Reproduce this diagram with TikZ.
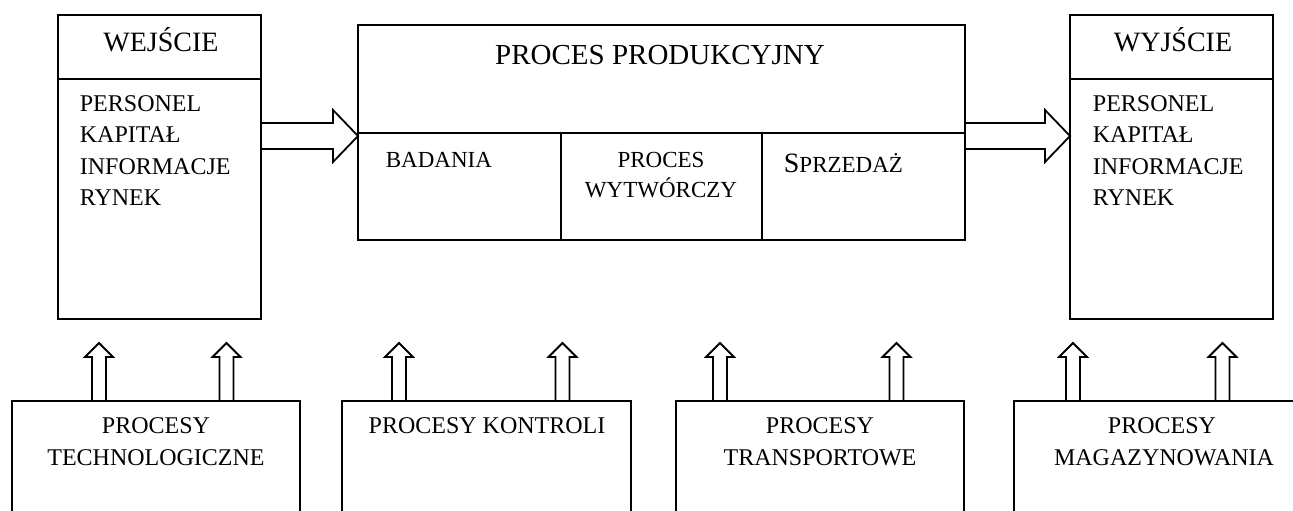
\documentclass[tikz,border=0pt]{standalone}
\usepackage{fontspec}
\setmainfont{Liberation Serif}
\usetikzlibrary{calc}

% hollow block arrow pointing up from a point on a box top
\newcommand\liftarrow[1]{%
  \draw[blockarrow] ($(#1)+(-7,0)$) -- ++(0,-44) -- ++(-7,0) -- ++(14,-14)
    -- ++(14,14) -- ++(-7,0) -- ++(0,44);}
% hollow block arrow pointing right from #1 to #2
\newcommand\pusharrow[2]{%
  \draw[blockarrow] ($(#1)+(0,-13)$) -- ($(#2)+(-25,-13)$) -- ($(#2)+(-25,-26)$)
    -- (#2) -- ($(#2)+(-25,26)$) -- ($(#2)+(-25,13)$) -- ($(#1)+(0,13)$);}

\begin{document}
\begin{tikzpicture}[x=1pt,y=-1pt,line width=1.8pt,
  panel/.style={draw,rectangle,inner sep=0pt,outer sep=0pt,anchor=north west},
  lbl/.style={inner sep=0pt,anchor=base,font=\fontsize{24}{24}\selectfont},
  listitem/.style={lbl,anchor=base west},
  cell/.style={lbl,font=\fontsize{23}{23}\selectfont},
  head/.style={lbl,font=\fontsize{28}{28}\selectfont},
  blockarrow/.style={draw,line join=miter}]
\useasboundingbox (0,0) rectangle (1293,511);
\clip (0,0) rectangle (1293,511);

% input column
\node[panel,minimum width=203pt,minimum height=304pt] (wej) at (58,15) {};
\draw ($(wej.north west)+(0,64)$) -- ($(wej.north east)+(0,64)$);
\node[head] (wejt) at (161,52) {WEJŚCIE};
\node[listitem] (wej1) at (79,111) {PERSONEL};
\node[listitem] (wej2) at (79,142.5) {KAPITAŁ};
\node[listitem] (wej3) at (79,174) {INFORMACJE};
\node[listitem] (wej4) at (79,205.5) {RYNEK};

% output column
\node[panel,minimum width=203pt,minimum height=304pt] (wyj) at (1070,15) {};
\draw ($(wyj.north west)+(0,64)$) -- ($(wyj.north east)+(0,64)$);
\node[head] (wyjt) at (1173,52) {WYJŚCIE};
\node[listitem] (wyj1) at (1092,111) {PERSONEL};
\node[listitem] (wyj2) at (1092,142.5) {KAPITAŁ};
\node[listitem] (wyj3) at (1092,174) {INFORMACJE};
\node[listitem] (wyj4) at (1092,205.5) {RYNEK};

% production process
\node[panel,minimum width=607pt,minimum height=215pt] (prod) at (358,25) {};
\draw ($(prod.north west)+(0,108)$) -- ($(prod.north east)+(0,108)$);
\draw ($(prod.north west)+(203,108)$) -- ($(prod.south west)+(203,0)$);
\draw ($(prod.north west)+(404,108)$) -- ($(prod.south west)+(404,0)$);
\node[head,font=\fontsize{29}{29}\selectfont] (prodt) at (660,64) {PROCES PRODUKCYJNY};
\node[cell,anchor=base west] (bad) at (385,167) {BADANIA};
\node[cell] (wyt1) at (661,167) {PROCES};
\node[cell] (wyt2) at (661,197) {WYTWÓRCZY};
\node[cell,anchor=base west] (spr) at (783,172)
  {{\fontsize{28}{28}\selectfont S}{\fontsize{23}{23}\selectfont PRZEDAŻ}};

% flows into and out of production
\coordinate (wejR) at ($(wej.north east)+(0,121)$);
\coordinate (prodL) at ($(prod.north west)+(0,111)$);
\coordinate (prodR) at ($(prod.north east)+(0,111)$);
\coordinate (wyjL) at ($(wyj.north west)+(0,121)$);
\pusharrow{wejR}{prodL}
\pusharrow{prodR}{wyjL}

% supporting processes
\node[panel,minimum width=288pt,minimum height=130pt] (b1) at (12,401) {};
\node[panel,minimum width=289pt,minimum height=130pt] (b2) at (342,401) {};
\node[panel,minimum width=288pt,minimum height=130pt] (b3) at (676,401) {};
\node[panel,minimum width=298pt,minimum height=130pt] (b4) at (1014,401) {};

\node[lbl] (b1a) at (156,433) {PROCESY};
\node[lbl] (b1b) at (156,465) {TECHNOLOGICZNE};
\node[lbl] (b2a) at (487,433) {PROCESY KONTROLI};
\node[lbl] (b3a) at (820,433) {PROCESY};
\node[lbl] (b3b) at (820,465) {TRANSPORTOWE};
\node[lbl] (b4a) at (1162,433) {PROCESY};
\node[lbl] (b4b) at (1164,465) {MAGAZYNOWANIA};

\coordinate (u1) at ($(b1.north west)+(87,0)$);
\coordinate (u2) at ($(b1.north west)+(214.5,0)$);
\coordinate (u3) at ($(b2.north west)+(57,0)$);
\coordinate (u4) at ($(b2.north west)+(220.5,0)$);
\coordinate (u5) at ($(b3.north west)+(44,0)$);
\coordinate (u6) at ($(b3.north west)+(220.5,0)$);
\coordinate (u7) at ($(b4.north west)+(59,0)$);
\coordinate (u8) at ($(b4.north west)+(208.5,0)$);
\foreach \u in {u1,u2,u3,u4,u5,u6,u7,u8} {\liftarrow{\u}}
\end{tikzpicture}
\end{document}
